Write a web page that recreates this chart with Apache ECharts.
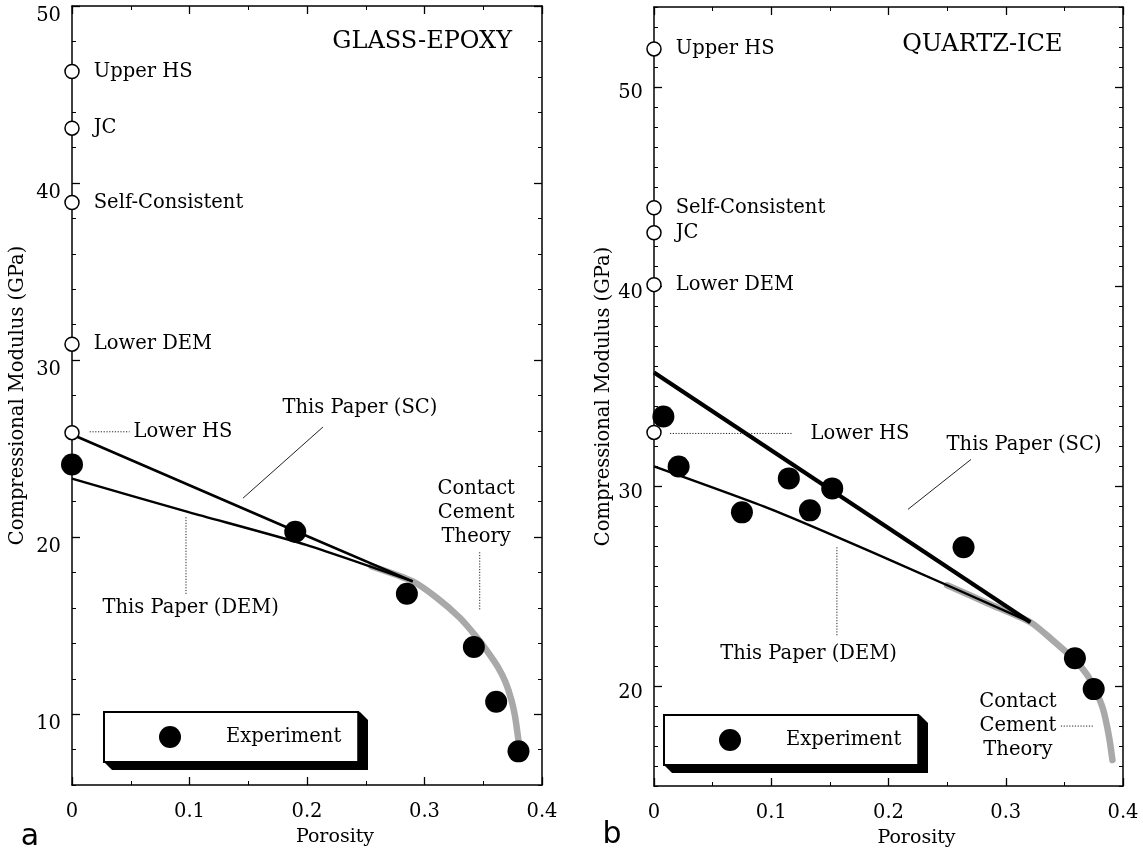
<!DOCTYPE html>
<html>
<head>
<meta charset="utf-8">
<script src="https://cdn.jsdelivr.net/npm/echarts@6/dist/echarts.min.js"></script>
<style>
  html, body { margin: 0; padding: 0; background: #fff; }
  #chart { width: 1143px; height: 853px; }
</style>
</head>
<body>
<div id="chart"></div>
<script>
// ---- Panel a: GLASS-EPOXY ----
const boundNamesA = ['Upper HS', 'JC', 'Self-Consistent', 'Lower DEM', 'Lower HS'];
const boundValuesA = [46.3, 43.1, 38.9, 30.9, 25.9];
const expPorosityA = [0, 0.19, 0.285, 0.342, 0.361, 0.380];
const expModulusA = [24.1, 20.3, 16.8, 13.8, 10.7, 7.9];
const scPorosityA = [0, 0.19, 0.29];
const scModulusA = [25.8, 20.35, 17.5];
const demPorosityA = [0, 0.1, 0.2, 0.29];
const demModulusA = [23.3, 21.4, 19.55, 17.5];
const cementPorosityA = [0.255, 0.29, 0.31, 0.33, 0.345, 0.355, 0.363, 0.369, 0.374, 0.377, 0.379, 0.380];
const cementModulusA = [18.35, 17.5, 16.6, 15.45, 14.3, 13.4, 12.6, 11.8, 10.8, 9.9, 9.0, 8.5];

// ---- Panel b: QUARTZ-ICE ----
const boundNamesB = ['Upper HS', 'Self-Consistent', 'JC', 'Lower DEM', 'Lower HS'];
const boundValuesB = [51.9, 43.95, 42.7, 40.1, 32.7];
const expPorosityB = [0.008, 0.021, 0.075, 0.115, 0.133, 0.152, 0.264, 0.359, 0.375];
const expModulusB = [33.5, 31.0, 28.7, 30.4, 28.8, 29.9, 26.95, 21.4, 19.85];
const scPorosityB = [0, 0.321];
const scModulusB = [35.7, 23.2];
const demPorosityB = [0, 0.1, 0.2, 0.321];
const demModulusB = [31.0, 28.85, 26.35, 23.2];
const cementPorosityB = [0.25, 0.285, 0.321, 0.340, 0.359, 0.369, 0.376, 0.383, 0.388, 0.391];
const cementModulusB = [25.05, 24.14, 23.2, 22.3, 21.3, 20.6, 19.85, 18.85, 17.5, 16.3];

// ---- Axis ranges and tick labels ----
const porosityRange = [0, 0.4];
const porosityTicks = [0, 0.1, 0.2, 0.3, 0.4];
const modulusRangeA = [6, 50];
const modulusTicksA = [10, 20, 30, 40, 50];
const modulusRangeB = [15, 54];
const modulusTicksB = [20, 30, 40, 50];

// ---- Annotation layout (text placed in data coordinates) ----
const notesA = [
  { text: 'GLASS-EPOXY', at: [0.298, 48.0], size: 24, align: 'center' },
  { text: 'This Paper (SC)', at: [0.245, 27.3], align: 'center' },
  { text: 'This Paper (DEM)', at: [0.101, 16.0], align: 'center' },
  { text: 'Contact\nCement\nTheory', at: [0.344, 21.36], align: 'center' },
  { text: 'Lower HS', at: [0.052, 25.95], align: 'left' }
];
const leadersA = [
  { from: [0.015, 25.95], to: [0.049, 25.95], dotted: true },
  { from: [0.2136, 26.22], to: [0.1455, 22.2], dotted: false },
  { from: [0.097, 21.13], to: [0.097, 16.72], dotted: true },
  { from: [0.347, 19.15], to: [0.347, 15.9], dotted: true }
];
const notesB = [
  { text: 'QUARTZ-ICE', at: [0.280, 52.1], size: 24, align: 'center' },
  { text: 'This Paper (SC)', at: [0.3156, 32.1], align: 'center' },
  { text: 'This Paper (DEM)', at: [0.1318, 21.6], align: 'center' },
  { text: 'Contact\nCement\nTheory', at: [0.3104, 18.0], align: 'center' },
  { text: 'Lower HS', at: [0.133, 32.65], align: 'left' }
];
const leadersB = [
  { from: [0.0136, 32.65], to: [0.1186, 32.65], dotted: true },
  { from: [0.2704, 31.35], to: [0.2166, 28.85], dotted: false },
  { from: [0.156, 26.95], to: [0.156, 22.5], dotted: true },
  { from: [0.347, 18.0], to: [0.375, 18.0], dotted: true }
];

const FONT = '"DejaVu Serif", serif';
const FS = 19.5;
const zip = (xs, ys) => xs.map((x, i) => [x, ys[i]]);
const GRIDS = [
  { left: 72, top: 6, width: 470, height: 779 },
  { left: 654, top: 7, width: 469, height: 779 }
];

// porosity axes: bottom (labelled) and top (ticks only) of a panel
function xAxes(g) {
  const base = {
    gridIndex: g, type: 'value', min: porosityRange[0], max: porosityRange[1], interval: 0.1,
    axisLine: { show: true, onZero: false, lineStyle: { color: '#000', width: 1.5 } },
    axisTick: { show: true, inside: true, length: 8, lineStyle: { color: '#000', width: 1.3 } },
    minorTick: { show: true, splitNumber: 2, length: 4, lineStyle: { color: '#000', width: 1 } },
    splitLine: { show: false }, minorSplitLine: { show: false }
  };
  return [
    Object.assign({}, base, {
      position: 'bottom',
      name: 'Porosity', nameLocation: 'middle', nameGap: 43,
      nameTextStyle: { fontFamily: FONT, fontSize: 19, color: '#000', padding: [0, 0, 0, 56] },
      axisLabel: {
        show: true, margin: 17, fontFamily: FONT, fontSize: FS, color: '#000',
        customValues: porosityTicks,
        formatter: v => (v === 0 ? '0' : String(+v.toFixed(2)))
      }
    }),
    Object.assign({}, base, { position: 'top', axisLabel: { show: false } })
  ];
}

// modulus axes: left (labelled) and right, carrying the short minor ticks
function yAxes(g, range, majors, minorStep, nameGap, labelShift) {
  const base = {
    gridIndex: g, type: 'value', min: range[0], max: range[1], interval: minorStep,
    splitLine: { show: false },
    axisLine: { show: true, onZero: false, lineStyle: { color: '#000', width: 1.5 } },
    axisTick: { show: true, inside: true, length: 4, lineStyle: { color: '#000', width: 1 } }
  };
  return [
    Object.assign({}, base, {
      position: 'left',
      name: 'Compressional Modulus (GPa)', nameLocation: 'middle', nameGap: nameGap,
      nameTextStyle: { fontFamily: FONT, fontSize: FS, color: '#000' },
      axisLabel: {
        show: true, customValues: majors, margin: 11, fontFamily: FONT, fontSize: FS, color: '#000',
        verticalAlign: 'top', lineHeight: labelShift * 2
      }
    }),
    Object.assign({}, base, { position: 'right', axisLabel: { show: false } })
  ];
}

// overlay axes carrying the long major ticks on both sides
function majorTickAxes(g, range, majors) {
  const base = {
    gridIndex: g, type: 'value', min: range[0], max: range[1],
    splitLine: { show: false }, axisLine: { show: false }, axisLabel: { show: false },
    axisTick: { show: true, inside: true, length: 8, customValues: majors, lineStyle: { color: '#000', width: 1.3 } }
  };
  return [
    Object.assign({}, base, { position: 'left' }),
    Object.assign({}, base, { position: 'right' })
  ];
}

function panelSeries(xi, yi, d) {
  const on = { xAxisIndex: xi, yAxisIndex: yi };
  const list = [];
  // contact cement theory band
  list.push(Object.assign({
    type: 'line', symbol: 'none', smooth: 0.25, silent: true, z: 2,
    lineStyle: { color: '#a9a9a9', width: 6.5, cap: 'round', join: 'round' },
    data: zip(d.cementX, d.cementY)
  }, on));
  // model curves
  list.push(Object.assign({
    type: 'line', symbol: 'none', silent: true, z: 3,
    lineStyle: { color: '#000', width: d.scWidth },
    data: zip(d.scX, d.scY)
  }, on));
  list.push(Object.assign({
    type: 'line', symbol: 'none', silent: true, z: 3, smooth: 0.2,
    lineStyle: { color: '#000', width: d.demWidth },
    data: zip(d.demX, d.demY)
  }, on));
  // leader lines
  d.leaders.forEach(l => list.push(Object.assign({
    type: 'line', symbol: 'none', silent: true, z: 3,
    lineStyle: { color: '#222', width: 1, type: l.dotted ? [1.2, 1.6] : 'solid' },
    data: [l.from, l.to]
  }, on)));
  // bounds at zero porosity
  list.push(Object.assign({
    type: 'scatter', clip: false, symbol: 'circle', symbolSize: 14, z: 6, silent: true,
    itemStyle: { color: '#fff', borderColor: '#000', borderWidth: 1.5, opacity: 1 },
    data: d.boundValues.map((v, i) => ({ value: [0, v], name: d.boundNames[i] })),
    label: {
      show: true, position: 'right', distance: 14, fontFamily: FONT, fontSize: FS, color: '#000',
      formatter: p => (p.name === 'Lower HS' ? '' : p.name)
    }
  }, on));
  // measurements
  list.push(Object.assign({
    name: 'Experiment', type: 'scatter', clip: false, symbol: 'circle', symbolSize: 22, z: 7,
    itemStyle: { color: '#000', opacity: 1 },
    data: zip(d.expX, d.expY)
  }, on));
  // text annotations
  list.push(Object.assign({
    type: 'scatter', clip: false, symbolSize: 1, silent: true, z: 8,
    itemStyle: { color: 'rgba(0,0,0,0)', opacity: 1 },
    data: d.notes.map(n => ({
      value: n.at,
      label: {
        show: true, formatter: n.text,
        position: n.align === 'left' ? 'right' : 'inside', distance: 0,
        align: n.align === 'left' ? 'left' : 'center',
        fontFamily: FONT, fontSize: n.size || FS, lineHeight: 24, color: '#000'
      }
    }))
  }, on));
  return list;
}

// legend frames and their extruded shadow
const LEGEND_BOXES = [
  { left: 104, top: 712, width: 256, height: 50 },
  { left: 664, top: 715, width: 256, height: 50 }
];
const legendBase = {
  orient: 'horizontal', selectedMode: false, icon: 'circle',
  itemWidth: 22, itemHeight: 22, padding: [14, 17, 14, 55],
  backgroundColor: '#fff', borderColor: '#000', borderWidth: 2,
  textStyle: { fontFamily: FONT, fontSize: FS, color: '#000', padding: [0, 0, 0, 40] },
  data: ['Experiment']
};
function extrusion(b) {
  const L = b.left, T = b.top, R = b.left + b.width, B = b.top + b.height, d = 8;
  return {
    type: 'polygon', z: 1, silent: true,
    shape: { points: [[R, T], [R + d, T + d], [R + d, B + d], [L + d, B + d], [L, B]] },
    style: { fill: '#000' }
  };
}

const option = {
  animation: false,
  backgroundColor: '#fff',
  grid: [GRIDS[0], GRIDS[1], GRIDS[0], GRIDS[1]],
  xAxis: [].concat(
    xAxes(0), xAxes(1),
    [{ gridIndex: 2, type: 'value', show: false, min: 0, max: 0.4 },
     { gridIndex: 3, type: 'value', show: false, min: 0, max: 0.4 }]
  ),
  yAxis: [].concat(
    yAxes(0, modulusRangeA, modulusTicksA, 2, 44, 9.5),
    yAxes(1, modulusRangeB, modulusTicksB, 1, 35, 6.5),
    majorTickAxes(2, modulusRangeA, modulusTicksA),
    majorTickAxes(3, modulusRangeB, modulusTicksB)
  ),
  legend: [
    Object.assign({}, legendBase, { left: LEGEND_BOXES[0].left, top: LEGEND_BOXES[0].top }),
    Object.assign({}, legendBase, { left: LEGEND_BOXES[1].left, top: LEGEND_BOXES[1].top })
  ],
  series: [].concat(
    panelSeries(0, 0, {
      cementX: cementPorosityA, cementY: cementModulusA,
      scX: scPorosityA, scY: scModulusA, scWidth: 2.6,
      demX: demPorosityA, demY: demModulusA, demWidth: 2.4,
      boundNames: boundNamesA, boundValues: boundValuesA,
      expX: expPorosityA, expY: expModulusA,
      notes: notesA, leaders: leadersA
    }),
    panelSeries(2, 2, {
      cementX: cementPorosityB, cementY: cementModulusB,
      scX: scPorosityB, scY: scModulusB, scWidth: 4.2,
      demX: demPorosityB, demY: demModulusB, demWidth: 2.4,
      boundNames: boundNamesB, boundValues: boundValuesB,
      expX: expPorosityB, expY: expModulusB,
      notes: notesB, leaders: leadersB
    })
  ),
  graphic: [
    extrusion(LEGEND_BOXES[0]),
    extrusion(LEGEND_BOXES[1]),
    { type: 'text', x: 30, y: 837, style: { text: 'a', font: '30px "DejaVu Sans"', fill: '#000', align: 'center', verticalAlign: 'middle' } },
    { type: 'text', x: 612, y: 835, style: { text: 'b', font: '30px "DejaVu Sans"', fill: '#000', align: 'center', verticalAlign: 'middle' } }
  ]
};

const chart = echarts.init(document.getElementById('chart'), null, { renderer: 'canvas' });
chart.setOption(option);
</script>
</body>
</html>
